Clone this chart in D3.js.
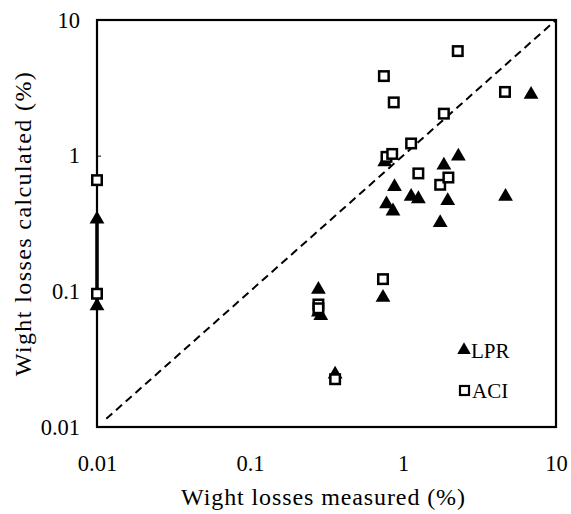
<!DOCTYPE html>
<html>
<head>
<meta charset="utf-8">
<script src="https://cdn.jsdelivr.net/npm/d3@7/dist/d3.min.js"></script>
<style>
  html, body { margin: 0; padding: 0; background: #fff; }
  svg text { font-family: "Liberation Serif", "Times New Roman", serif; fill: #000; }
</style>
</head>
<body>
<svg id="chart" width="571" height="514"></svg>
<script>
// ---- data ----
const lprX = [0.01, 0.01, 0.28, 0.28, 0.29, 0.36, 0.74, 0.76, 0.78, 0.86, 0.88, 1.13, 1.26, 1.75, 1.85, 1.96, 2.30, 4.68, 6.87];
const lprY = [0.34, 0.078, 0.103, 0.070, 0.066, 0.0245, 0.090, 0.90, 0.44, 0.39, 0.59, 0.50, 0.48, 0.32, 0.85, 0.465, 0.99, 0.50, 2.82];
const aciX = [0.01, 0.01, 0.28, 0.28, 0.36, 0.74, 0.75, 0.87, 0.78, 0.85, 1.13, 1.26, 1.75, 1.98, 1.85, 2.28, 4.64];
const aciY = [0.66, 0.096, 0.080, 0.075, 0.0225, 0.123, 3.86, 2.47, 0.98, 1.03, 1.23, 0.74, 0.61, 0.69, 2.04, 5.9, 2.95];
const lprLineX = [0.01, 0.01];
const lprLineY = [0.078, 0.34];
const diagonal = [0.0115, 10];
const tickValues = [0.01, 0.1, 1, 10];
const tickLabels = ["0.01", "0.1", "1", "10"];
const xTitle = "Wight losses measured (%)";
const yTitle = "Wight losses calculated (%)";
const seriesNames = ["LPR", "ACI"];

// ---- layout ----
const svg = d3.select("#chart");
const mLeft = 97, mRight = 556, mTop = 20, mBottom = 427;
const x = d3.scaleLog().domain([0.01, 10]).range([mLeft, mRight]);
const y = d3.scaleLog().domain([0.01, 10]).range([mBottom, mTop]);

// y axis ticks (inside)
const yAxis = d3.axisLeft(y).tickValues(tickValues).tickSize(-4).tickPadding(17)
  .tickFormat((d, i) => tickLabels[i]);
const gy = svg.append("g").attr("transform", `translate(${mLeft},0)`).call(yAxis);
gy.select(".domain").remove();
gy.selectAll(".tick line").attr("stroke", "#000").attr("stroke-width", 1);
gy.selectAll(".tick text").attr("font-size", 22.5).attr("font-family", "Liberation Serif");

// x axis labels (no visible ticks)
const xAxis = d3.axisBottom(x).tickValues(tickValues).tickSize(0).tickPadding(28)
  .tickFormat((d, i) => tickLabels[i]);
const gx = svg.append("g").attr("transform", `translate(0,${mBottom})`).call(xAxis);
gx.select(".domain").remove();
gx.selectAll(".tick text").attr("font-size", 22.5).attr("font-family", "Liberation Serif");

// diagonal 1:1 line
svg.append("line")
  .attr("x1", x(diagonal[0])).attr("y1", y(diagonal[0]))
  .attr("x2", x(diagonal[1])).attr("y2", y(diagonal[1]))
  .attr("stroke", "#000").attr("stroke-width", 2).attr("stroke-dasharray", "8,5");

// frame
svg.append("rect").attr("x", mLeft).attr("y", mTop)
  .attr("width", mRight - mLeft).attr("height", mBottom - mTop)
  .attr("fill", "none").attr("stroke", "#000").attr("stroke-width", 2.2);

// LPR connecting line at x = 0.01
svg.append("path")
  .datum(lprLineX.map((v, i) => [v, lprLineY[i]]))
  .attr("d", d3.line().x(d => x(d[0])).y(d => y(d[1])))
  .attr("stroke", "#000").attr("stroke-width", 3.5).attr("fill", "none");

// LPR triangles
const tri = d3.symbol().type(d3.symbolTriangle).size(95);
svg.append("g").selectAll("path")
  .data(lprX.map((v, i) => [v, lprY[i]]))
  .join("path")
  .attr("d", tri)
  .attr("transform", d => `translate(${x(d[0])},${y(d[1])})`)
  .attr("fill", "#000");

// ACI squares
const sq = 9.5;
svg.append("g").selectAll("rect")
  .data(aciX.map((v, i) => [v, aciY[i]]))
  .join("rect")
  .attr("x", d => x(d[0]) - sq / 2).attr("y", d => y(d[1]) - sq / 2)
  .attr("width", sq).attr("height", sq)
  .attr("fill", "#fff").attr("stroke", "#000").attr("stroke-width", 2.5);

// axis titles
svg.append("text").attr("x", (mLeft + mRight) / 2 - 3).attr("y", 505)
  .attr("text-anchor", "middle").attr("font-size", 24).attr("letter-spacing", 0.9)
  .text(xTitle);
svg.append("text")
  .attr("transform", `translate(31,${(mTop + mBottom) / 2}) rotate(-90)`)
  .attr("text-anchor", "middle").attr("font-size", 24).attr("letter-spacing", 1.4)
  .text(yTitle);

// legend
const lg = svg.append("g");
lg.append("path").attr("d", d3.symbol().type(d3.symbolTriangle).size(80))
  .attr("transform", `translate(464,350)`).attr("fill", "#000");
lg.append("text").attr("x", 471).attr("y", 358).attr("font-size", 21).text(seriesNames[0]);
lg.append("rect").attr("x", 460).attr("y", 386).attr("width", 9).attr("height", 9)
  .attr("fill", "#fff").attr("stroke", "#000").attr("stroke-width", 2.2);
lg.append("text").attr("x", 472).attr("y", 398).attr("font-size", 21).text(seriesNames[1]);
</script>
</body>
</html>
